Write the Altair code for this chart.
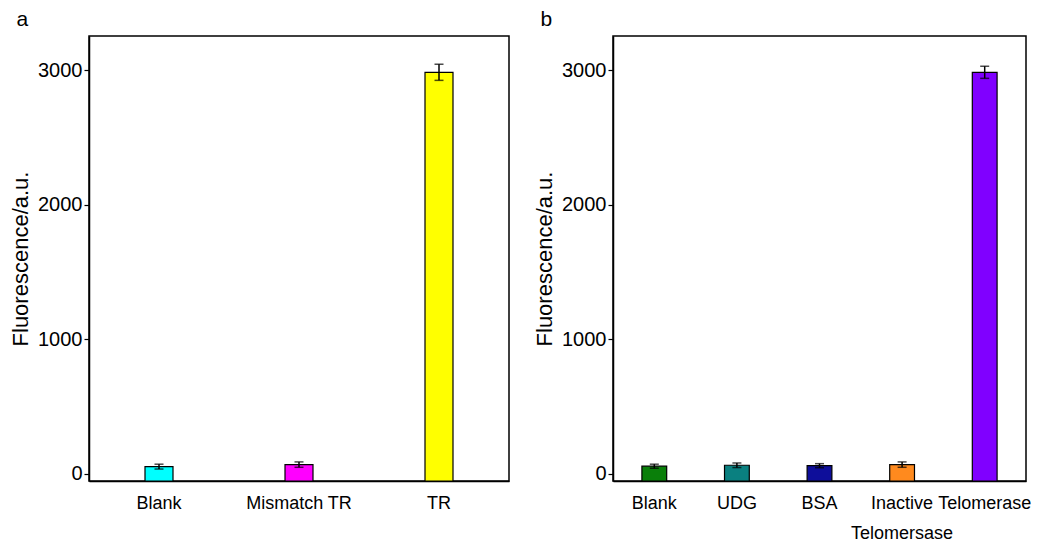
import altair as alt
import pandas as pd

# Panel a
cats_a = ["Blank", "Mismatch TR", "TR"]
vals_a = [52, 67, 2985]
errs_a = [18, 20, 60]
cols_a = ["#00FFFF", "#FF00FF", "#FFFF00"]

# Panel b
cats_b = ["Blank", "UDG", "BSA", "Inactive Telomersase", "Telomerase"]
vals_b = [55, 62, 59, 67, 2985]
errs_b = [15, 17, 15, 20, 45]
cols_b = ["#0A7F0A", "#0A8080", "#0E0E9A", "#FF8A1E", "#8000FF"]

y_ticks = [0, 1000, 2000, 3000]
YMIN, YMAX = -55, 3255
FONT = "Liberation Sans, Arial, sans-serif"


def panel(cats, vals, errs, cols, letter, width, pad_inner):
    df = pd.DataFrame({"cat": cats, "val": vals, "err": errs, "col": cols})
    df["lo"] = df["val"] - df["err"]
    df["hi"] = df["val"] + df["err"]
    xs = alt.X(
        "cat:N",
        sort=cats,
        scale=alt.Scale(paddingInner=pad_inner, paddingOuter=pad_inner / 2),
        axis=alt.Axis(
            title=None, labelAngle=0, ticks=False, domain=True,
            labelFont=FONT, labelFontSize=18, labelColor="black",
            labelPadding=13, labelLimit=300, labelLineHeight=30,
            labelExpr="datum.label == 'Inactive Telomersase' ? ['Inactive', 'Telomersase'] : datum.label",
        ),
    )
    ys = alt.Y(
        "val:Q",
        scale=alt.Scale(domain=[YMIN, YMAX], nice=False, zero=False),
        axis=alt.Axis(
            title="Fluorescence/a.u.", values=y_ticks, format="d",
            grid=False, tickSize=5, tickColor="black", tickWidth=1.2,
            labelFont=FONT, labelFontSize=20, labelColor="black", labelPadding=2,
            titleFont=FONT, titleFontSize=22, titleFontWeight="normal",
            titleColor="black", titlePadding=5,
        ),
    )
    base = alt.Chart(df)
    bars = base.mark_bar(stroke="black", strokeWidth=1.2).encode(
        x=xs, y=ys, y2=alt.datum(YMIN),
        color=alt.Color("col:N", scale=None),
    )
    rules = base.mark_rule(color="black", strokeWidth=1.5).encode(
        x=alt.X("cat:N", sort=cats), y="lo:Q", y2="hi:Q"
    )
    cap_hi = base.mark_tick(color="black", orient="horizontal", size=9, thickness=1.5).encode(
        x=alt.X("cat:N", sort=cats), y="hi:Q"
    )
    cap_lo = base.mark_tick(color="black", orient="horizontal", size=9, thickness=1.5).encode(
        x=alt.X("cat:N", sort=cats), y="lo:Q"
    )
    return alt.layer(bars, rules, cap_hi, cap_lo).properties(
        width=width, height=445,
        title=alt.TitleParams(
            letter, anchor="start", frame="bounds", fontSize=21, font=FONT,
            fontWeight="normal", color="black", dx=7, offset=6,
        ),
    )


pa = panel(cats_a, vals_a, errs_a, cols_a, "a", 420, 0.8)
pb = panel(cats_b, vals_b, errs_b, cols_b, "b", 413, 0.7)

chart = (
    alt.hconcat(pa, pb, spacing=22)
    .properties(padding={"left": 0, "top": 0, "right": 0, "bottom": 0})
    .configure(background="white")
    .configure_view(stroke="black", strokeWidth=1.5)
    .configure_axis(domainColor="black", domainWidth=1.5)
)

chart.save("out.html", embed_options={"renderer": "svg", "actions": False})
